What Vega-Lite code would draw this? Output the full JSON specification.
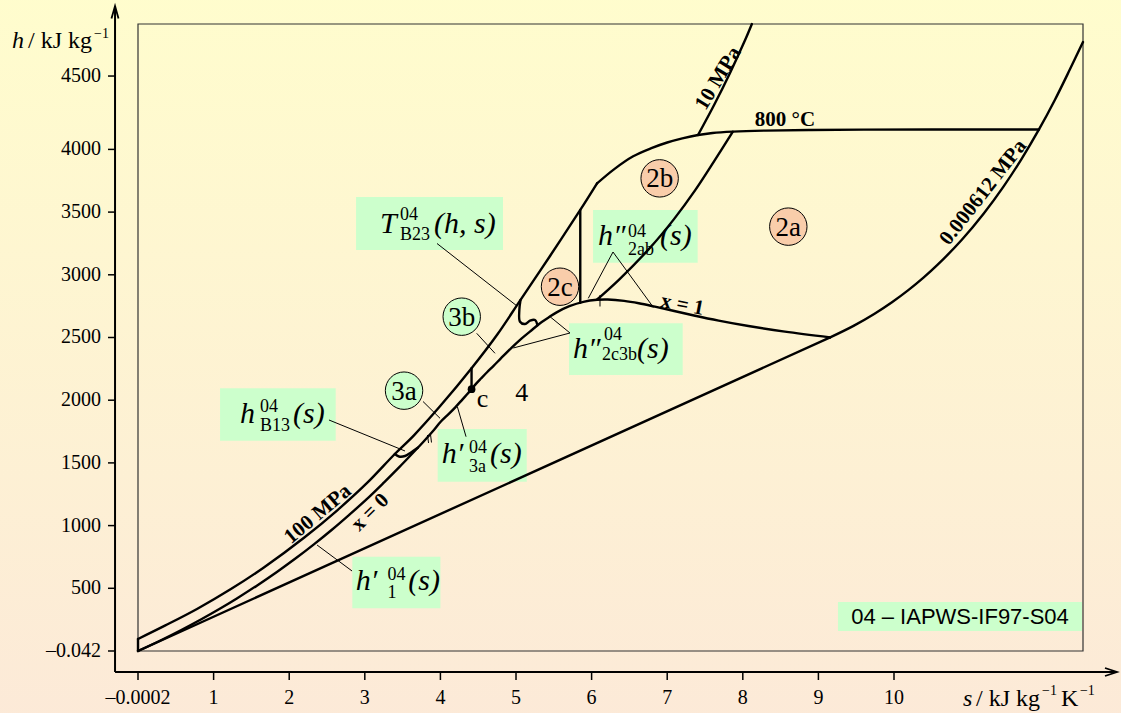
{
"$schema": "https://vega.github.io/schema/vega-lite/v6.json",
"width": 945, "height": 627,
"autosize": {"type": "none"},
"padding": {"left": 138, "top": 24, "right": 38, "bottom": 62},
"background": "#FCEFD3",
"config": {"view": {"stroke": null}, "font": "Liberation Serif"},
"datasets": {
"bg": [{"s0": -2, "s1": 14, "h0": -700, "h1": 5300}],
"frame": [{"s0": -0.0002, "s1": 12.5, "h0": -0.042, "h1": 5000}],
"xticks": [{"s": -0.0002, "lab": "–0.0002"}, {"s": 1, "lab": "1"}, {"s": 2, "lab": "2"}, {"s": 3, "lab": "3"}, {"s": 4, "lab": "4"}, {"s": 5, "lab": "5"}, {"s": 6, "lab": "6"}, {"s": 7, "lab": "7"}, {"s": 8, "lab": "8"}, {"s": 9, "lab": "9"}, {"s": 10, "lab": "10"}],
"yticks": [{"h": 0, "lab": "–0.042"}, {"h": 500, "lab": "500"}, {"h": 1000, "lab": "1000"}, {"h": 1500, "lab": "1500"}, {"h": 2000, "lab": "2000"}, {"h": 2500, "lab": "2500"}, {"h": 3000, "lab": "3000"}, {"h": 3500, "lab": "3500"}, {"h": 4000, "lab": "4000"}, {"h": 4585, "lab": "4500"}],
"boxes": [
{"s0": 2.884, "s1": 4.828, "h0": 3197.8, "h1": 3620.4},
{"s0": 6.019, "s1": 7.403, "h0": 3096.5, "h1": 3516.8},
{"s0": 5.701, "s1": 7.205, "h0": 2201, "h1": 2613.2},
{"s0": 1.085, "s1": 2.615, "h0": 1677.0, "h1": 2094.9},
{"s0": 3.964, "s1": 5.142, "h0": 1350.1, "h1": 1770.3},
{"s0": 2.835, "s1": 4.0, "h0": 340.5, "h1": 752.0},
{"s0": 9.259, "s1": 12.487, "h0": 159.5, "h1": 390.7}
],
"curves": [
{"c": "tp", "i": 0, "s": 0, "h": 0}, {"c": "tp", "i": 1, "s": 9.1555, "h": 2500.9},
{"c": "left", "i": 0, "s": 0, "h": 0}, {"c": "left", "i": 1, "s": 0, "h": 96},
{"c": "x0", "i": 0, "s": 0, "h": 0}, {"c": "x0", "i": 1, "s": 0.2965, "h": 83.9}, {"c": "x0", "i": 2, "s": 0.5724, "h": 167.5}, {"c": "x0", "i": 3, "s": 0.8313, "h": 251.2}, {"c": "x0", "i": 4, "s": 1.0756, "h": 335}, {"c": "x0", "i": 5, "s": 1.3072, "h": 419.2}, {"c": "x0", "i": 6, "s": 1.5813, "h": 525.1}, {"c": "x0", "i": 7, "s": 1.8418, "h": 632.2}, {"c": "x0", "i": 8, "s": 2.0909, "h": 741}, {"c": "x0", "i": 9, "s": 2.3305, "h": 852.3}, {"c": "x0", "i": 10, "s": 2.5644, "h": 966.8}, {"c": "x0", "i": 11, "s": 2.7935, "h": 1085.7}, {"c": "x0", "i": 12, "s": 3.0256, "h": 1210.9}, {"c": "x0", "i": 13, "s": 3.2552, "h": 1344.8}, {"c": "x0", "i": 14, "s": 3.4494, "h": 1461.8}, {"c": "x0", "i": 15, "s": 3.6601, "h": 1594.5}, {"c": "x0", "i": 16, "s": 3.7784, "h": 1670.9}, {"c": "x0", "i": 17, "s": 3.9167, "h": 1764.2}, {"c": "x0", "i": 18, "s": 4.0004, "h": 1826}, {"c": "x0", "i": 19, "s": 4.1112, "h": 1890.7}, {"c": "x0", "i": 20, "s": 4.2, "h": 1945}, {"c": "x0", "i": 21, "s": 4.29, "h": 2005}, {"c": "x0", "i": 22, "s": 4.35, "h": 2045}, {"c": "x0", "i": 23, "s": 4.412, "h": 2087.5},
{"c": "x1", "i": 0, "s": 4.412, "h": 2087.5}, {"c": "x1", "i": 1, "s": 4.47, "h": 2130}, {"c": "x1", "i": 2, "s": 4.54, "h": 2175}, {"c": "x1", "i": 3, "s": 4.62, "h": 2225}, {"c": "x1", "i": 4, "s": 4.7, "h": 2272}, {"c": "x1", "i": 5, "s": 4.7996, "h": 2333}, {"c": "x1", "i": 6, "s": 4.94, "h": 2418}, {"c": "x1", "i": 7, "s": 5.0536, "h": 2481.6}, {"c": "x1", "i": 8, "s": 5.2177, "h": 2563.6}, {"c": "x1", "i": 9, "s": 5.3357, "h": 2621.3}, {"c": "x1", "i": 10, "s": 5.4437, "h": 2665.3}, {"c": "x1", "i": 11, "s": 5.5373, "h": 2700.6}, {"c": "x1", "i": 12, "s": 5.7059, "h": 2749.6}, {"c": "x1", "i": 13, "s": 5.8908, "h": 2784.6}, {"c": "x1", "i": 14, "s": 6.0729, "h": 2801}, {"c": "x1", "i": 15, "s": 6.2139, "h": 2803}, {"c": "x1", "i": 16, "s": 6.4302, "h": 2792}, {"c": "x1", "i": 17, "s": 6.624, "h": 2773}, {"c": "x1", "i": 18, "s": 6.8371, "h": 2745.9}, {"c": "x1", "i": 19, "s": 7.0784, "h": 2713.1}, {"c": "x1", "i": 20, "s": 7.3541, "h": 2675.6}, {"c": "x1", "i": 21, "s": 7.6807, "h": 2634.6}, {"c": "x1", "i": 22, "s": 8.0748, "h": 2591.3}, {"c": "x1", "i": 23, "s": 8.5567, "h": 2546.5}, {"c": "x1", "i": 24, "s": 9.1555, "h": 2500.9},
{"c": "p100", "i": 0, "s": 0, "h": 96}, {"c": "p100", "i": 1, "s": 0.362, "h": 204}, {"c": "p100", "i": 2, "s": 0.78, "h": 335}, {"c": "p100", "i": 3, "s": 1.229, "h": 494}, {"c": "p100", "i": 4, "s": 1.66, "h": 664}, {"c": "p100", "i": 5, "s": 2.204, "h": 907}, {"c": "p100", "i": 6, "s": 2.636, "h": 1122}, {"c": "p100", "i": 7, "s": 3.03, "h": 1340}, {"c": "p100", "i": 8, "s": 3.397, "h": 1571}, {"c": "p100", "i": 9, "s": 3.65, "h": 1720}, {"c": "p100", "i": 10, "s": 4.0, "h": 1955}, {"c": "p100", "i": 11, "s": 4.412, "h": 2255}, {"c": "p100", "i": 12, "s": 4.75, "h": 2522}, {"c": "p100", "i": 13, "s": 5.06, "h": 2800}, {"c": "p100", "i": 14, "s": 5.45, "h": 3150}, {"c": "p100", "i": 15, "s": 5.85, "h": 3517}, {"c": "p100", "i": 16, "s": 6.072, "h": 3729},
{"c": "t800", "i": 0, "s": 6.072, "h": 3729}, {"c": "t800", "i": 1, "s": 6.3, "h": 3843}, {"c": "t800", "i": 2, "s": 6.55, "h": 3945}, {"c": "t800", "i": 3, "s": 6.8, "h": 4012}, {"c": "t800", "i": 4, "s": 7.0, "h": 4055}, {"c": "t800", "i": 5, "s": 7.2, "h": 4088}, {"c": "t800", "i": 6, "s": 7.4077, "h": 4114.9}, {"c": "t800", "i": 7, "s": 7.6, "h": 4131}, {"c": "t800", "i": 8, "s": 7.8685, "h": 4141.6}, {"c": "t800", "i": 9, "s": 8.3, "h": 4150}, {"c": "t800", "i": 10, "s": 8.9, "h": 4155}, {"c": "t800", "i": 11, "s": 9.6, "h": 4157.5}, {"c": "t800", "i": 12, "s": 10.5, "h": 4158.5}, {"c": "t800", "i": 13, "s": 11.9177, "h": 4159},
{"c": "p10", "i": 0, "s": 7.4077, "h": 4114.9}, {"c": "p10", "i": 1, "s": 7.627, "h": 4362}, {"c": "p10", "i": 2, "s": 7.834, "h": 4614}, {"c": "p10", "i": 3, "s": 8.029, "h": 4870}, {"c": "p10", "i": 4, "s": 8.12, "h": 5000},
{"c": "p0", "i": 0, "s": 9.1555, "h": 2500.9}, {"c": "p0", "i": 1, "s": 9.4645, "h": 2592.6}, {"c": "p0", "i": 2, "s": 9.7375, "h": 2687.5}, {"c": "p0", "i": 3, "s": 9.9778, "h": 2783}, {"c": "p0", "i": 4, "s": 10.1934, "h": 2879.5}, {"c": "p0", "i": 5, "s": 10.3898, "h": 2977.3}, {"c": "p0", "i": 6, "s": 10.5709, "h": 3076.5}, {"c": "p0", "i": 7, "s": 10.8973, "h": 3279.6}, {"c": "p0", "i": 8, "s": 11.1874, "h": 3489.1}, {"c": "p0", "i": 9, "s": 11.4504, "h": 3705.4}, {"c": "p0", "i": 10, "s": 11.6924, "h": 3928.7}, {"c": "p0", "i": 11, "s": 11.9177, "h": 4159}, {"c": "p0", "i": 12, "s": 12.1292, "h": 4396.4}, {"c": "p0", "i": 13, "s": 12.3289, "h": 4640.6}, {"c": "p0", "i": 14, "s": 12.5, "h": 4856},
{"c": "p4", "i": 0, "s": 6.0696, "h": 2801}, {"c": "p4", "i": 1, "s": 6.3639, "h": 2961.7}, {"c": "p4", "i": 2, "s": 6.7714, "h": 3214.5}, {"c": "p4", "i": 3, "s": 7.0922, "h": 3446}, {"c": "p4", "i": 4, "s": 7.3706, "h": 3674.9}, {"c": "p4", "i": 5, "s": 7.6214, "h": 3906.3}, {"c": "p4", "i": 6, "s": 7.8685, "h": 4141.6},
{"c": "s585", "i": 0, "s": 5.85, "h": 2777}, {"c": "s585", "i": 1, "s": 5.85, "h": 3517},
{"c": "sc", "i": 0, "s": 4.412, "h": 2087.5}, {"c": "sc", "i": 1, "s": 4.412, "h": 2255},
{"c": "b23", "i": 0, "s": 5.06, "h": 2800}, {"c": "b23", "i": 1, "s": 5.044, "h": 2719}, {"c": "b23", "i": 2, "s": 5.053, "h": 2626}, {"c": "b23", "i": 3, "s": 5.119, "h": 2608}, {"c": "b23", "i": 4, "s": 5.185, "h": 2634}, {"c": "b23", "i": 5, "s": 5.251, "h": 2640}, {"c": "b23", "i": 6, "s": 5.284, "h": 2598},
{"c": "b13", "i": 0, "s": 3.397, "h": 1571}, {"c": "b13", "i": 1, "s": 3.452, "h": 1551}, {"c": "b13", "i": 2, "s": 3.532, "h": 1555}, {"c": "b13", "i": 3, "s": 3.611, "h": 1583}, {"c": "b13", "i": 4, "s": 3.7, "h": 1620}
],
"leaders": [
{"c": "a", "i": 0, "s": 3.955, "h": 3249.6}, {"c": "a", "i": 1, "s": 5.013, "h": 2751.2},
{"c": "b", "i": 0, "s": 5.956, "h": 2812.6}, {"c": "b", "i": 1, "s": 6.283, "h": 3181.8}, {"c": "b", "i": 2, "s": 6.799, "h": 2755.2},
{"c": "d", "i": 0, "s": 5.45, "h": 2665.9}, {"c": "d", "i": 1, "s": 5.714, "h": 2535.9}, {"c": "d", "i": 2, "s": 4.964, "h": 2416.3},
{"c": "e", "i": 0, "s": 4.48, "h": 2533.5}, {"c": "e", "i": 1, "s": 4.722, "h": 2374.0},
{"c": "f", "i": 0, "s": 3.77, "h": 1989.6}, {"c": "f", "i": 1, "s": 3.995, "h": 1855.7},
{"c": "g", "i": 0, "s": 2.526, "h": 1842.1}, {"c": "g", "i": 1, "s": 3.532, "h": 1594.9},
{"c": "k", "i": 0, "s": 4.339, "h": 1708.9}, {"c": "k", "i": 1, "s": 4.224, "h": 1948.2},
{"c": "m", "i": 0, "s": 2.831, "h": 638.0}, {"c": "m", "i": 1, "s": 2.368, "h": 845.3},
{"c": "n", "i": 0, "s": 6.111, "h": 2839}, {"c": "n", "i": 1, "s": 6.111, "h": 2747.3},
{"c": "q1", "i": 0, "s": 3.829, "h": 1722.5}, {"c": "q1", "i": 1, "s": 3.843, "h": 1658.7},
{"c": "q2", "i": 0, "s": 3.869, "h": 1726.5}, {"c": "q2", "i": 1, "s": 3.882, "h": 1662.7}
],
"axes": [
{"s": -0.304, "s2": 12.95, "h": -167.5, "h2": -167.5},
{"s": -0.304, "s2": -0.304, "h": -167.5, "h2": 5143.6}
],
"arrows": [
{"c": "ya", "i": 0, "s": -0.351, "h": 5043.8}, {"c": "ya", "i": 1, "s": -0.304, "h": 5143.6}, {"c": "ya", "i": 2, "s": -0.258, "h": 5043.8},
{"c": "xa", "i": 0, "s": 12.791, "h": -135.6}, {"c": "xa", "i": 1, "s": 12.95, "h": -167.5}, {"c": "xa", "i": 2, "s": 12.791, "h": -199.4}
],
"crit": [{"s": 4.412, "h": 2087.5}],
"circles": [
{"s": 6.9, "h": 3769, "t": "2b", "region": "2"},
{"s": 8.602, "h": 3384, "t": "2a", "region": "2"},
{"s": 5.582, "h": 2905, "t": "2c", "region": "2"},
{"s": 4.282, "h": 2666, "t": "3b", "region": "3"},
{"s": 3.519, "h": 2076, "t": "3a", "region": "3"}
],
"plainText": [
{"s": 5.075, "h": 2055, "t": "4"},
{"s": 4.557, "h": 2009.6, "t": "c"}
],
"mathMain": [
{"s": 3.201, "h": 3333.3, "t": "T"}, {"s": 3.915, "h": 3333.3, "t": "(h, s)"},
{"s": 6.085, "h": 3237.6, "t": "h″"}, {"s": 6.905, "h": 3237.6, "t": "(s)"},
{"s": 5.754, "h": 2334.1, "t": "h″"}, {"s": 6.601, "h": 2334.1, "t": "(s)"},
{"s": 1.349, "h": 1815.8, "t": "h"}, {"s": 2.05, "h": 1815.8, "t": "(s)"},
{"s": 4.017, "h": 1496.8, "t": "h′"}, {"s": 4.656, "h": 1496.8, "t": "(s)"},
{"s": 2.88, "h": 486.4, "t": "h′"}, {"s": 3.575, "h": 486.4, "t": "(s)"}
],
"mathSmall": [
{"s": 3.466, "h": 3437.0, "t": "04"}, {"s": 3.466, "h": 3277.5, "t": "B23"},
{"s": 6.481, "h": 3303.8, "t": "04"}, {"s": 6.481, "h": 3157.9, "t": "2ab"},
{"s": 6.164, "h": 2480, "t": "04"}, {"s": 6.138, "h": 2320.6, "t": "2c3b"},
{"s": 1.614, "h": 1908.3, "t": "04"}, {"s": 1.614, "h": 1756.8, "t": "B13"},
{"s": 4.378, "h": 1576.6, "t": "04"}, {"s": 4.378, "h": 1429.8, "t": "3a"},
{"s": 3.3, "h": 566.2, "t": "04"}, {"s": 3.3, "h": 418.7, "t": "1"}
],
"source": [{"s": 10.873, "h": 275, "t": "04 – IAPWS-IF97-S04"}],
"curveLabels": [
{"s": 2.378, "h": 1091, "t": "100 MPa"},
{"s": 3.073, "h": 1104.5, "t": "x = 0"},
{"s": 7.202, "h": 2759.2, "t": "x = 1"},
{"s": 7.676, "h": 4567, "t": "10 MPa"},
{"s": 11.181, "h": 3656.3, "t": "0.000612 MPa"},
{"s": 8.558, "h": 4234.5, "t": "800 °C"}
],
"axItalic": [{"s": -1.667, "h": 4808.6, "t": "h"}, {"s": 10.913, "h": -438.6, "t": "s"}],
"axRegular": [{"s": -1.455, "h": 4808.6, "t": "/ kJ kg"}, {"s": 11.085, "h": -438.6, "t": "/ kJ kg"}, {"s": 12.209, "h": -438.6, "t": "K"}],
"axSup": [{"s": -0.582, "h": 4888.4, "t": "−1"}, {"s": 11.958, "h": -350.9, "t": "−1"}, {"s": 12.46, "h": -350.9, "t": "−1"}]
},
"layer": [
{"data": {"name": "bg"}, "mark": {"type": "rect", "fill": {"gradient": "linear", "x1": 0, "y1": 0, "x2": 0, "y2": 1, "stops": [{"offset": 0, "color": "#FFFDCD"}, {"offset": 1, "color": "#FCE9D8"}]}},
 "encoding": {"x": {"field": "s0", "type": "quantitative", "scale": {"domain": [-0.0002, 12.5], "nice": false, "zero": false}, "axis": null}, "x2": {"field": "s1"},
  "y": {"field": "h0", "type": "quantitative", "scale": {"domain": [-0.042, 5000], "nice": false, "zero": false}, "axis": null}, "y2": {"field": "h1"}}},
{"data": {"name": "boxes"}, "mark": {"type": "rect", "fill": "#CCFFCC"},
 "encoding": {"x": {"field": "s0", "type": "quantitative", "scale": {"domain": [-0.0002, 12.5], "nice": false, "zero": false}, "axis": null}, "x2": {"field": "s1"},
  "y": {"field": "h0", "type": "quantitative", "scale": {"domain": [-0.042, 5000], "nice": false, "zero": false}, "axis": null}, "y2": {"field": "h1"}}},
{"data": {"name": "frame"}, "mark": {"type": "rect", "fill": null, "stroke": "#333333", "strokeWidth": 1.2},
 "encoding": {"x": {"field": "s0", "type": "quantitative", "scale": {"domain": [-0.0002, 12.5], "nice": false, "zero": false}, "axis": null}, "x2": {"field": "s1"},
  "y": {"field": "h0", "type": "quantitative", "scale": {"domain": [-0.042, 5000], "nice": false, "zero": false}, "axis": null}, "y2": {"field": "h1"}}},
{"data": {"name": "xticks"}, "mark": {"type": "rule", "color": "black", "strokeWidth": 1.5},
 "encoding": {"x": {"field": "s", "type": "quantitative", "scale": {"domain": [-0.0002, 12.5], "nice": false, "zero": false}, "axis": null},
  "y": {"datum": -167.5, "type": "quantitative", "scale": {"domain": [-0.042, 5000], "nice": false, "zero": false}, "axis": null}, "y2": {"datum": -231.3}}},
{"data": {"name": "xticks"}, "mark": {"type": "text", "font": "Liberation Serif", "fontSize": 20, "align": "center", "baseline": "middle", "color": "black"},
 "encoding": {"x": {"field": "s", "type": "quantitative", "scale": {"domain": [-0.0002, 12.5], "nice": false, "zero": false}, "axis": null},
  "y": {"datum": -376, "type": "quantitative", "scale": {"domain": [-0.042, 5000], "nice": false, "zero": false}, "axis": null}, "text": {"field": "lab"}}},
{"data": {"name": "yticks"}, "mark": {"type": "rule", "color": "black", "strokeWidth": 1.5},
 "encoding": {"y": {"field": "h", "type": "quantitative", "scale": {"domain": [-0.042, 5000], "nice": false, "zero": false}, "axis": null},
  "x": {"datum": -0.304, "type": "quantitative", "scale": {"domain": [-0.0002, 12.5], "nice": false, "zero": false}, "axis": null}, "x2": {"datum": -0.397}}},
{"data": {"name": "yticks"}, "mark": {"type": "text", "font": "Liberation Serif", "fontSize": 20, "align": "right", "baseline": "middle", "color": "black"},
 "encoding": {"y": {"field": "h", "type": "quantitative", "scale": {"domain": [-0.042, 5000], "nice": false, "zero": false}, "axis": null},
  "x": {"datum": -0.49, "type": "quantitative", "scale": {"domain": [-0.0002, 12.5], "nice": false, "zero": false}, "axis": null}, "text": {"field": "lab"}}},
{"data": {"name": "curves"}, "mark": {"type": "line", "color": "black", "strokeWidth": 2.4, "strokeJoin": "round", "strokeCap": "round", "interpolate": "catmull-rom"},
 "encoding": {"x": {"field": "s", "type": "quantitative", "scale": {"domain": [-0.0002, 12.5], "nice": false, "zero": false}, "axis": null},
  "y": {"field": "h", "type": "quantitative", "scale": {"domain": [-0.042, 5000], "nice": false, "zero": false}, "axis": null},
  "detail": {"field": "c"}, "order": {"field": "i", "type": "quantitative"}}},
{"data": {"name": "leaders"}, "mark": {"type": "line", "color": "black", "strokeWidth": 1},
 "encoding": {"x": {"field": "s", "type": "quantitative", "scale": {"domain": [-0.0002, 12.5], "nice": false, "zero": false}, "axis": null},
  "y": {"field": "h", "type": "quantitative", "scale": {"domain": [-0.042, 5000], "nice": false, "zero": false}, "axis": null},
  "detail": {"field": "c"}, "order": {"field": "i", "type": "quantitative"}}},
{"data": {"name": "axes"}, "mark": {"type": "rule", "color": "black", "strokeWidth": 2},
 "encoding": {"x": {"field": "s", "type": "quantitative", "scale": {"domain": [-0.0002, 12.5], "nice": false, "zero": false}, "axis": null}, "x2": {"field": "s2"},
  "y": {"field": "h", "type": "quantitative", "scale": {"domain": [-0.042, 5000], "nice": false, "zero": false}, "axis": null}, "y2": {"field": "h2"}}},
{"data": {"name": "arrows"}, "mark": {"type": "line", "color": "black", "strokeWidth": 1.8},
 "encoding": {"x": {"field": "s", "type": "quantitative", "scale": {"domain": [-0.0002, 12.5], "nice": false, "zero": false}, "axis": null},
  "y": {"field": "h", "type": "quantitative", "scale": {"domain": [-0.042, 5000], "nice": false, "zero": false}, "axis": null},
  "detail": {"field": "c"}, "order": {"field": "i", "type": "quantitative"}}},
{"data": {"name": "crit"}, "mark": {"type": "point", "shape": "circle", "filled": true, "color": "black", "size": 60, "opacity": 1},
 "encoding": {"x": {"field": "s", "type": "quantitative", "scale": {"domain": [-0.0002, 12.5], "nice": false, "zero": false}, "axis": null},
  "y": {"field": "h", "type": "quantitative", "scale": {"domain": [-0.042, 5000], "nice": false, "zero": false}, "axis": null}}},
{"data": {"name": "circles"}, "mark": {"type": "point", "shape": "circle", "filled": true, "stroke": "black", "strokeWidth": 1, "size": 1400, "opacity": 1},
 "encoding": {"x": {"field": "s", "type": "quantitative", "scale": {"domain": [-0.0002, 12.5], "nice": false, "zero": false}, "axis": null},
  "y": {"field": "h", "type": "quantitative", "scale": {"domain": [-0.042, 5000], "nice": false, "zero": false}, "axis": null},
  "fill": {"field": "region", "type": "nominal", "scale": {"domain": ["2", "3"], "range": ["#F9CDAA", "#CCFFCC"]}, "legend": null}}},
{"data": {"name": "circles"}, "mark": {"type": "text", "font": "Liberation Serif", "fontSize": 27, "align": "center", "baseline": "middle", "dy": 1, "color": "black"},
 "encoding": {"x": {"field": "s", "type": "quantitative", "scale": {"domain": [-0.0002, 12.5], "nice": false, "zero": false}, "axis": null},
  "y": {"field": "h", "type": "quantitative", "scale": {"domain": [-0.042, 5000], "nice": false, "zero": false}, "axis": null}, "text": {"field": "t"}}},
{"data": {"name": "plainText"}, "mark": {"type": "text", "font": "Liberation Serif", "fontSize": 26, "align": "center", "baseline": "middle", "color": "black"},
 "encoding": {"x": {"field": "s", "type": "quantitative", "scale": {"domain": [-0.0002, 12.5], "nice": false, "zero": false}, "axis": null},
  "y": {"field": "h", "type": "quantitative", "scale": {"domain": [-0.042, 5000], "nice": false, "zero": false}, "axis": null}, "text": {"field": "t"}}},
{"data": {"name": "mathMain"}, "mark": {"type": "text", "font": "Liberation Serif", "fontSize": 30, "fontStyle": "italic", "align": "left", "baseline": "alphabetic", "color": "black"},
 "encoding": {"x": {"field": "s", "type": "quantitative", "scale": {"domain": [-0.0002, 12.5], "nice": false, "zero": false}, "axis": null},
  "y": {"field": "h", "type": "quantitative", "scale": {"domain": [-0.042, 5000], "nice": false, "zero": false}, "axis": null}, "text": {"field": "t"}}},
{"data": {"name": "mathSmall"}, "mark": {"type": "text", "font": "Liberation Serif", "fontSize": 18, "align": "left", "baseline": "alphabetic", "color": "black"},
 "encoding": {"x": {"field": "s", "type": "quantitative", "scale": {"domain": [-0.0002, 12.5], "nice": false, "zero": false}, "axis": null},
  "y": {"field": "h", "type": "quantitative", "scale": {"domain": [-0.042, 5000], "nice": false, "zero": false}, "axis": null}, "text": {"field": "t"}}},
{"data": {"name": "source"}, "mark": {"type": "text", "font": "Liberation Sans", "fontSize": 22, "align": "center", "baseline": "middle", "color": "black"},
 "encoding": {"x": {"field": "s", "type": "quantitative", "scale": {"domain": [-0.0002, 12.5], "nice": false, "zero": false}, "axis": null},
  "y": {"field": "h", "type": "quantitative", "scale": {"domain": [-0.042, 5000], "nice": false, "zero": false}, "axis": null}, "text": {"field": "t"}}},
{"data": {"name": "curveLabels"}, "transform": [{"filter": "datum.t == '100 MPa'"}], "mark": {"type": "text", "font": "Liberation Serif", "fontWeight": "bold", "fontSize": 21, "align": "center", "baseline": "middle", "angle": 320, "color": "black"},
 "encoding": {"x": {"field": "s", "type": "quantitative", "scale": {"domain": [-0.0002, 12.5], "nice": false, "zero": false}, "axis": null},
  "y": {"field": "h", "type": "quantitative", "scale": {"domain": [-0.042, 5000], "nice": false, "zero": false}, "axis": null}, "text": {"field": "t"}}},
{"data": {"name": "curveLabels"}, "transform": [{"filter": "datum.t == 'x = 0'"}], "mark": {"type": "text", "font": "Liberation Serif", "fontWeight": "bold", "fontSize": 21, "align": "center", "baseline": "middle", "angle": 315, "color": "black"},
 "encoding": {"x": {"field": "s", "type": "quantitative", "scale": {"domain": [-0.0002, 12.5], "nice": false, "zero": false}, "axis": null},
  "y": {"field": "h", "type": "quantitative", "scale": {"domain": [-0.042, 5000], "nice": false, "zero": false}, "axis": null}, "text": {"field": "t"}}},
{"data": {"name": "curveLabels"}, "transform": [{"filter": "datum.t == 'x = 1'"}], "mark": {"type": "text", "font": "Liberation Serif", "fontWeight": "bold", "fontSize": 21, "align": "center", "baseline": "middle", "angle": 11, "color": "black"},
 "encoding": {"x": {"field": "s", "type": "quantitative", "scale": {"domain": [-0.0002, 12.5], "nice": false, "zero": false}, "axis": null},
  "y": {"field": "h", "type": "quantitative", "scale": {"domain": [-0.042, 5000], "nice": false, "zero": false}, "axis": null}, "text": {"field": "t"}}},
{"data": {"name": "curveLabels"}, "transform": [{"filter": "datum.t == '10 MPa'"}], "mark": {"type": "text", "font": "Liberation Serif", "fontWeight": "bold", "fontSize": 21, "align": "center", "baseline": "middle", "angle": 301, "color": "black"},
 "encoding": {"x": {"field": "s", "type": "quantitative", "scale": {"domain": [-0.0002, 12.5], "nice": false, "zero": false}, "axis": null},
  "y": {"field": "h", "type": "quantitative", "scale": {"domain": [-0.042, 5000], "nice": false, "zero": false}, "axis": null}, "text": {"field": "t"}}},
{"data": {"name": "curveLabels"}, "transform": [{"filter": "datum.t == '0.000612 MPa'"}], "mark": {"type": "text", "font": "Liberation Serif", "fontWeight": "bold", "fontSize": 21, "align": "center", "baseline": "middle", "angle": 308, "color": "black"},
 "encoding": {"x": {"field": "s", "type": "quantitative", "scale": {"domain": [-0.0002, 12.5], "nice": false, "zero": false}, "axis": null},
  "y": {"field": "h", "type": "quantitative", "scale": {"domain": [-0.042, 5000], "nice": false, "zero": false}, "axis": null}, "text": {"field": "t"}}},
{"data": {"name": "curveLabels"}, "transform": [{"filter": "datum.t == '800 °C'"}], "mark": {"type": "text", "font": "Liberation Serif", "fontWeight": "bold", "fontSize": 21, "align": "center", "baseline": "middle", "color": "black"},
 "encoding": {"x": {"field": "s", "type": "quantitative", "scale": {"domain": [-0.0002, 12.5], "nice": false, "zero": false}, "axis": null},
  "y": {"field": "h", "type": "quantitative", "scale": {"domain": [-0.042, 5000], "nice": false, "zero": false}, "axis": null}, "text": {"field": "t"}}},
{"data": {"name": "axItalic"}, "mark": {"type": "text", "font": "Liberation Serif", "fontSize": 24, "fontStyle": "italic", "align": "left", "baseline": "alphabetic", "color": "black"},
 "encoding": {"x": {"field": "s", "type": "quantitative", "scale": {"domain": [-0.0002, 12.5], "nice": false, "zero": false}, "axis": null},
  "y": {"field": "h", "type": "quantitative", "scale": {"domain": [-0.042, 5000], "nice": false, "zero": false}, "axis": null}, "text": {"field": "t"}}},
{"data": {"name": "axRegular"}, "mark": {"type": "text", "font": "Liberation Serif", "fontSize": 24, "align": "left", "baseline": "alphabetic", "color": "black"},
 "encoding": {"x": {"field": "s", "type": "quantitative", "scale": {"domain": [-0.0002, 12.5], "nice": false, "zero": false}, "axis": null},
  "y": {"field": "h", "type": "quantitative", "scale": {"domain": [-0.042, 5000], "nice": false, "zero": false}, "axis": null}, "text": {"field": "t"}}},
{"data": {"name": "axSup"}, "mark": {"type": "text", "font": "Liberation Serif", "fontSize": 14, "align": "left", "baseline": "alphabetic", "color": "black"},
 "encoding": {"x": {"field": "s", "type": "quantitative", "scale": {"domain": [-0.0002, 12.5], "nice": false, "zero": false}, "axis": null},
  "y": {"field": "h", "type": "quantitative", "scale": {"domain": [-0.042, 5000], "nice": false, "zero": false}, "axis": null}, "text": {"field": "t"}}}
]
}
